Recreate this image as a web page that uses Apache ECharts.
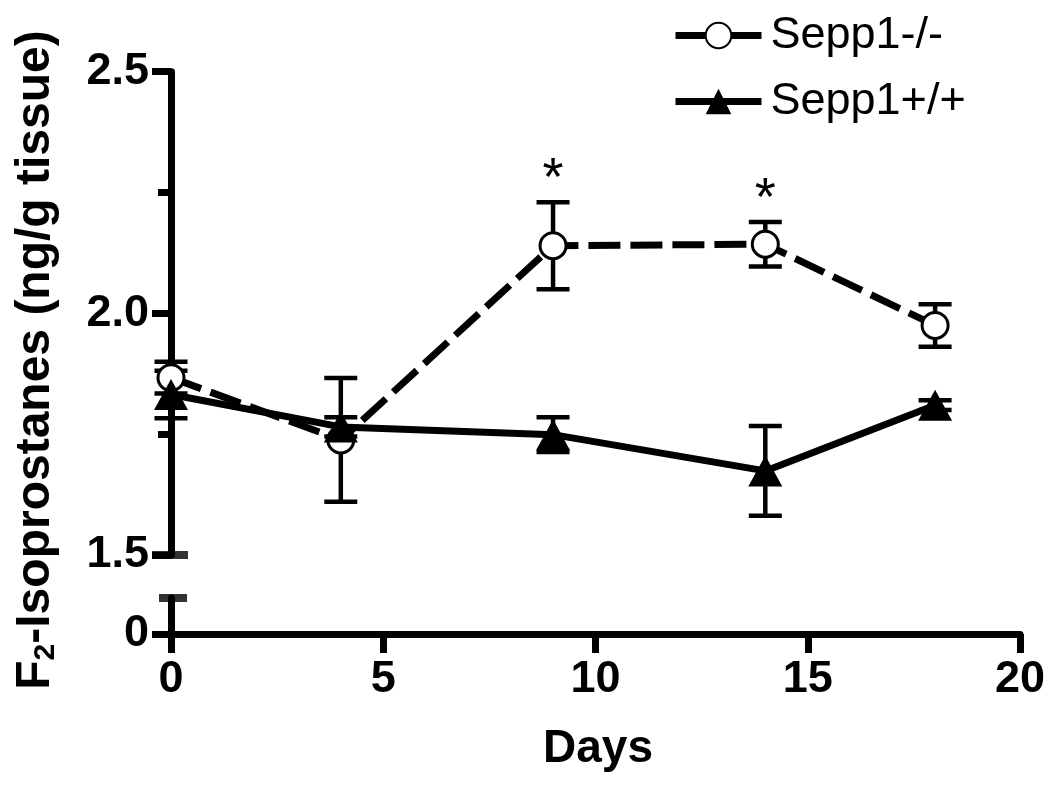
<!DOCTYPE html>
<html><head><meta charset="utf-8">
<script src="https://cdn.jsdelivr.net/npm/echarts@6/dist/echarts.min.js"></script>
<style>html,body{margin:0;padding:0;background:#fff}#c{width:1050px;height:792px}</style>
</head><body><div id="c"></div><script>
// ---- data ----
const days = [0, 4, 9, 14, 18];
const koName = 'Sepp1-/-';
const koMean = [1.867, 1.738, 2.140, 2.143, 1.975];
const koErr  = [0.033, 0.128, 0.090, 0.046, 0.044];
const wtName = 'Sepp1+/+';
const wtMean = [1.832, 1.765, 1.749, 1.674, 1.810];
const wtErr  = [0.049, 0.020, 0.036, 0.093, 0.010];
const significant = [false, false, true, true, false];
const yTicksUpper = [1.5, 2.0, 2.5];
const yTicksLower = [0];
const lowerTop = 0.0745;
const xTicks = [0, 5, 10, 15, 20];
const yTitleParts = ['F', '2', '-Isoprostanes (ng/g tissue)'];
const xTitle = 'Days';

const FF = '"Liberation Sans", Arial, Helvetica, sans-serif';
const chart = echarts.init(document.getElementById('c'), null, {renderer: 'canvas'});

function errSeries(name, mean, err, sig) {
  return {
    type: 'custom', name: name + ' err', xAxisIndex: 0, yAxisIndex: 0, z: 1, silent: true,
    data: days.map((d, i) => [d, mean[i], err[i], sig ? (sig[i] ? 1 : 0) : 0]),
    renderItem: function (params, api) {
      const x = api.value(0), m = api.value(1), e = api.value(2), s = api.value(3);
      const top = api.coord([x, m + e]);
      const bot = api.coord([x, m - e]);
      const hw = 16.5;
      const ls = {stroke: '#000', lineWidth: 4.5};
      const children = [
        {type: 'line', shape: {x1: top[0], y1: top[1], x2: bot[0], y2: bot[1]}, style: ls},
        {type: 'line', shape: {x1: top[0] - hw, y1: top[1], x2: top[0] + hw, y2: top[1]}, style: ls},
        {type: 'line', shape: {x1: bot[0] - hw, y1: bot[1], x2: bot[0] + hw, y2: bot[1]}, style: ls}
      ];
      if (s) {
        children.push({type: 'text', style: {text: '*', x: top[0], y: top[1] - 22,
          align: 'center', verticalAlign: 'middle', fill: '#000',
          font: 'normal 54px ' + FF}});
      }
      return {type: 'group', children: children};
    }
  };
}

const tickStyle = {color: '#000', width: 7};
const option = {
  animation: false,
  backgroundColor: '#fff',
  grid: [
    {left: 171, right: 30, top: 71.7, height: 483.3},
    {left: 171, right: 30, top: 598, height: 36}
  ],
  xAxis: [
    {gridIndex: 0, type: 'value', min: xTicks[0], max: xTicks[xTicks.length - 1], interval: 5, show: false},
    {gridIndex: 1, type: 'value', min: xTicks[0], max: xTicks[xTicks.length - 1], interval: xTicks[1] - xTicks[0],
      axisLine: {show: true, lineStyle: tickStyle},
      axisTick: {show: true, length: 19, lineStyle: tickStyle},
      splitLine: {show: false},
      axisLabel: {fontSize: 45, fontWeight: 'bold', color: '#000', fontFamily: FF, margin: 23}}
  ],
  yAxis: [
    {gridIndex: 0, type: 'value', min: yTicksUpper[0], max: yTicksUpper[yTicksUpper.length - 1],
      interval: yTicksUpper[1] - yTicksUpper[0],
      axisLine: {show: true, lineStyle: tickStyle},
      axisTick: {show: true, length: 19, lineStyle: tickStyle},
      minorTick: {show: true, splitNumber: 2, length: 13, lineStyle: tickStyle},
      splitLine: {show: false},
      axisLabel: {fontSize: 45, fontWeight: 'bold', color: '#000', fontFamily: FF, margin: 22,
        formatter: v => v.toFixed(1)}},
    {gridIndex: 1, type: 'value', min: 0, max: lowerTop,
      axisLine: {show: true, lineStyle: tickStyle},
      axisTick: {show: true, length: 19, lineStyle: tickStyle, customValues: yTicksLower},
      splitLine: {show: false},
      axisLabel: {fontSize: 45, fontWeight: 'bold', color: '#000', fontFamily: FF, margin: 22,
        customValues: yTicksLower, formatter: v => String(v)}}
  ],
  legend: {
    orient: 'vertical', left: 672, top: 13, padding: 0,
    itemWidth: 86, itemHeight: 32, itemGap: 21,
    textStyle: {fontSize: 45, color: '#000', fontFamily: FF, padding: [0, 0, 0, 4]},
    data: [
      {name: koName, lineStyle: {type: 'solid', width: 7, color: '#000'}},
      {name: wtName, lineStyle: {type: 'solid', width: 7, color: '#000'}}
    ]
  },
  graphic: [
    {type: 'text', x: 36, y: 360, rotation: Math.PI / 2, silent: true,
      style: {text: '{a|' + yTitleParts[0] + '}{b|' + yTitleParts[1] + '}{a|' + yTitleParts[2] + '}',
        align: 'center', verticalAlign: 'middle',
        rich: {a: {fontSize: 48, fontWeight: 'bold', fontFamily: FF, fill: '#000', lineHeight: 50},
               b: {fontSize: 30, fontWeight: 'bold', fontFamily: FF, fill: '#000', lineHeight: 40, verticalAlign: 'bottom'}}}},
    {type: 'text', x: 598, y: 749, silent: true,
      style: {text: xTitle, align: 'center', verticalAlign: 'middle',
        font: 'bold 46px ' + FF, fill: '#000'}}
  ],
  series: [
    errSeries(koName, koMean, koErr, significant),
    errSeries(wtName, wtMean, wtErr, null),
    {
      type: 'line', name: koName, xAxisIndex: 0, yAxisIndex: 0, z: 3,
      data: days.map((d, i) => [d, koMean[i]]),
      symbol: 'circle', symbolSize: 26, showSymbol: true,
      itemStyle: {color: '#fff', borderColor: '#000', borderWidth: 3},
      lineStyle: {color: '#000', width: 7, type: [32, 10]}
    },
    {
      type: 'line', name: wtName, xAxisIndex: 0, yAxisIndex: 0, z: 4,
      data: days.map((d, i) => [d, wtMean[i]]),
      symbol: 'triangle', symbolSize: [34, 31], showSymbol: true,
      itemStyle: {color: '#000'},
      lineStyle: {color: '#000', width: 7, type: 'solid'}
    },
    {
      type: 'scatter', name: 'breakUpper', xAxisIndex: 0, yAxisIndex: 0, silent: true, clip: false, z: 5,
      data: [[xTicks[0], yTicksUpper[0]]], symbol: 'rect', symbolSize: [36, 8], symbolOffset: [-1, 0],
      itemStyle: {color: '#000', borderWidth: 0}
    },
    {
      type: 'scatter', name: 'breakLower', xAxisIndex: 1, yAxisIndex: 1, silent: true, clip: false, z: 5,
      data: [[xTicks[0], lowerTop]], symbol: 'rect', symbolSize: [28, 8], symbolOffset: [2, 0],
      itemStyle: {color: '#000', borderWidth: 0}
    }
  ]
};
chart.setOption(option);
</script></body></html>
